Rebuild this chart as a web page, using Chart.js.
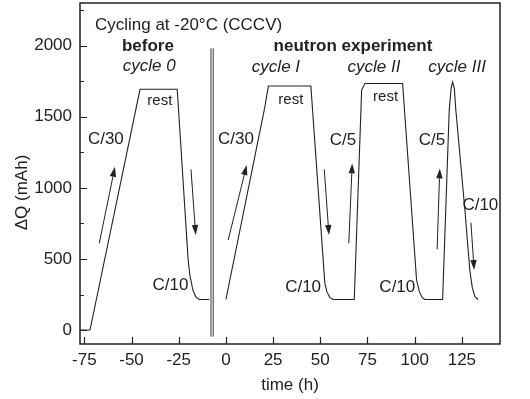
<!DOCTYPE html>
<html>
<head>
<meta charset="utf-8">
<script src="https://cdn.jsdelivr.net/npm/chart.js@4.4.0/dist/chart.umd.min.js"></script>
<style>
  html, body { margin: 0; padding: 0; background: #fff; }
  #wrap { width: 530px; height: 399px; }
</style>
</head>
<body>
<div id="wrap"><canvas id="cyclingChart"></canvas></div>
<script>
// cycle 0, before the neutron run
const timeBefore = [-77.3, -72, -45.5, -25.8, -20.0, -19.1, -17.5, -15.9, -14.1, -8.8];
const qBefore    = [0, 0, 1693, 1693, 492, 387, 281, 232, 215, 215];

// cycles I - III, during the neutron experiment
const timeNeutron = [0, 20.5, 22.5, 45.0, 52.4, 53.5, 55.0, 56.8, 68.0, 71.9, 73.6, 93.6,
                     101.0, 102.5, 104.0, 105.4, 114.8, 118.3, 119.3, 120.1, 121.0, 121.8,
                     126.6, 129.2, 130.5, 131.9, 133.6];
const qNeutron    = [215, 1560, 1716, 1716, 330, 270, 230, 215, 215, 1688, 1734, 1734,
                     352, 270, 228, 215, 215, 1547, 1700, 1745, 1700, 1547,
                     844, 422, 300, 234, 215];

// axis break (two vertical lines)
const breakX = [-7.9, -6.7];
const breakY = [-47, 1981];

// arrows, start -> tip
const arrowFromX = [-67.1, -18.5, 1.2, 52.1, 65.1, 111.9, 129.8];
const arrowFromY = [610, 1130, 633, 1130, 610, 567, 755];
const arrowToX   = [-58.8, -16.0, 11.0, 54.6, 66.9, 113.3, 131.5];
const arrowToY   = [1148, 668, 1160, 668, 1172, 1137, 422];

// tick labels
const xTickStep = 25;
const yTickStep = 250;
const yLabelEvery = 500;

const FONT = "'Liberation Sans', Arial, Helvetica, sans-serif";
const INK = '#222';

// text notes placed in data coordinates
const notes = [
  { text: 'Cycling at -20°C (CCCV)', x: -69.4, y: 2145, style: '', align: 'left' },
  { text: 'before', x: -41.3, y: 1992, style: 'bold ' },
  { text: 'cycle 0', x: -40.6, y: 1852, style: 'italic ' },
  { text: 'neutron experiment', x: 67.3, y: 1992, style: 'bold ' },
  { text: 'cycle I', x: 26.5, y: 1850, style: 'italic ' },
  { text: 'cycle II', x: 78.4, y: 1850, style: 'italic ' },
  { text: 'cycle III', x: 122.5, y: 1850, style: 'italic ' },
  { text: 'rest', x: -35.0, y: 1610, style: '', size: 15 },
  { text: 'rest', x: 34.4, y: 1617, style: '', size: 15 },
  { text: 'rest', x: 84.6, y: 1638, style: '', size: 15 },
  { text: 'C/30', x: -63.6, y: 1341, style: '' },
  { text: 'C/30', x: 5.3, y: 1341, style: '' },
  { text: 'C/5', x: 62.0, y: 1336, style: '' },
  { text: 'C/5', x: 109.1, y: 1336, style: '' },
  { text: 'C/10', x: -29.4, y: 316, style: '' },
  { text: 'C/10', x: 40.9, y: 304, style: '' },
  { text: 'C/10', x: 90.8, y: 304, style: '' },
  { text: 'C/10', x: 134.8, y: 879, style: '' }
];

function toPoints(xs, ys) {
  return xs.map((x, i) => ({ x: x, y: ys[i] }));
}

// keep the chart area where the reference has it
function noScalePadding(scale) {
  scale.paddingTop = 0;
  scale.paddingBottom = 0;
  scale.paddingLeft = 0;
  scale.paddingRight = 0;
}

// frame, inward ticks, arrows and notes
const decorPlugin = {
  id: 'decor',
  afterDraw(chart) {
    const { ctx, chartArea: a, scales: { x, y } } = chart;
    ctx.save();

    ctx.strokeStyle = INK;
    ctx.lineWidth = 1.5;
    ctx.strokeRect(a.left, a.top, a.right - a.left, a.bottom - a.top);

    ctx.lineWidth = 1.2;
    ctx.beginPath();
    x.ticks.forEach(t => {
      const px = Math.round(x.getPixelForValue(t.value)) + 0.5;
      ctx.moveTo(px, a.bottom);
      ctx.lineTo(px, a.bottom - 7);
    });
    y.ticks.forEach(t => {
      const py = Math.round(y.getPixelForValue(t.value)) + 0.5;
      const len = t.value % yLabelEvery === 0 ? 7 : 4;
      ctx.moveTo(a.left, py);
      ctx.lineTo(a.left + len, py);
    });
    ctx.stroke();

    // arrows
    ctx.fillStyle = INK;
    ctx.lineWidth = 1;
    arrowFromX.forEach((fx, i) => {
      const x0 = x.getPixelForValue(fx), y0 = y.getPixelForValue(arrowFromY[i]);
      const x1 = x.getPixelForValue(arrowToX[i]), y1 = y.getPixelForValue(arrowToY[i]);
      const ang = Math.atan2(y1 - y0, x1 - x0);
      const head = 10, half = 3.2;
      const bx = x1 - head * Math.cos(ang), by = y1 - head * Math.sin(ang);
      ctx.beginPath();
      ctx.moveTo(x0, y0);
      ctx.lineTo(bx, by);
      ctx.stroke();
      ctx.beginPath();
      ctx.moveTo(x1, y1);
      ctx.lineTo(bx + half * Math.sin(ang), by - half * Math.cos(ang));
      ctx.lineTo(bx - half * Math.sin(ang), by + half * Math.cos(ang));
      ctx.closePath();
      ctx.fill();
    });

    // notes
    ctx.textBaseline = 'middle';
    notes.forEach(n => {
      ctx.font = n.style + (n.size || 17) + 'px ' + FONT;
      ctx.textAlign = n.align || 'center';
      ctx.fillText(n.text, x.getPixelForValue(n.x), y.getPixelForValue(n.y));
    });

    // y axis title
    ctx.font = '17px ' + FONT;
    ctx.textAlign = 'center';
    ctx.translate(22, (a.top + a.bottom) / 2 + 19);
    ctx.rotate(-Math.PI / 2);
    ctx.fillText('ΔQ (mAh)', 0, 0);

    ctx.restore();
  }
};

Chart.defaults.font.family = FONT;
Chart.defaults.color = INK;

new Chart(document.getElementById('cyclingChart'), {
  type: 'scatter',
  data: {
    datasets: [
      {
        label: 'before',
        data: toPoints(timeBefore, qBefore),
        showLine: true,
        borderColor: INK,
        borderWidth: 1.1,
        pointRadius: 0,
        tension: 0
      },
      {
        label: 'neutron experiment',
        data: toPoints(timeNeutron, qNeutron),
        showLine: true,
        borderColor: INK,
        borderWidth: 1.1,
        pointRadius: 0,
        tension: 0
      },
      {
        label: 'break 1',
        data: toPoints([breakX[0], breakX[0]], breakY),
        showLine: true,
        borderColor: '#666',
        borderWidth: 1.3,
        pointRadius: 0
      },
      {
        label: 'break 2',
        data: toPoints([breakX[1], breakX[1]], breakY),
        showLine: true,
        borderColor: '#666',
        borderWidth: 1.3,
        pointRadius: 0
      }
    ]
  },
  options: {
    responsive: true,
    maintainAspectRatio: false,
    animation: false,
    layout: { padding: { top: 3, right: 30, left: 0, bottom: 0 } },
    scales: {
      x: {
        type: 'linear',
        min: -77.3,
        max: 145.2,
        grid: { display: false, drawTicks: false },
        border: { display: false },
        ticks: {
          stepSize: xTickStep,
          includeBounds: false,
          padding: 6,
          font: { size: 17 },
          color: INK,
          maxRotation: 0
        },
        title: {
          display: true,
          text: 'time (h)',
          font: { size: 17 },
          color: INK,
          padding: { top: 0, bottom: 3 }
        },
        afterFit(scale) {
          scale.height = 55;
          noScalePadding(scale);
        }
      },
      y: {
        type: 'linear',
        min: -98,
        max: 2300,
        grid: { display: false, drawTicks: false },
        border: { display: false },
        ticks: {
          stepSize: yTickStep,
          includeBounds: false,
          padding: 8,
          font: { size: 17 },
          color: INK,
          callback: function(value) { return value % yLabelEvery === 0 ? value : ''; }
        },
        afterFit(scale) {
          scale.width = 80;
          noScalePadding(scale);
        }
      }
    },
    plugins: {
      legend: { display: false },
      title: { display: false },
      tooltip: { enabled: false }
    }
  },
  plugins: [decorPlugin]
});
</script>
</body>
</html>
